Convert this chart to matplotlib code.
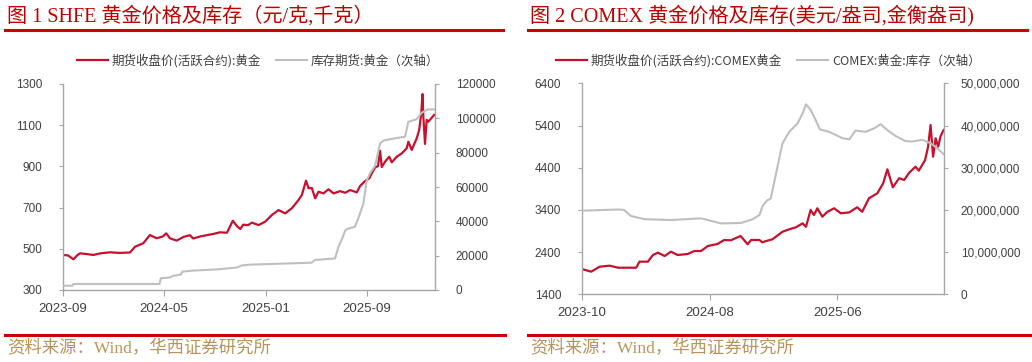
import matplotlib
matplotlib.use('Agg')
import matplotlib.pyplot as plt
from matplotlib.lines import Line2D
from matplotlib.ticker import FuncFormatter
import pandas as pd

# ---------------- Chart 1: SHFE ----------------
shfe_price_dates = [
    '2023-09-01', '2023-09-13', '2023-09-26', '2023-10-06', '2023-10-12', '2023-10-26',
    '2023-11-13', '2023-11-30', '2023-12-23', '2024-01-14', '2024-02-09', '2024-02-21',
    '2024-03-12', '2024-03-28', '2024-04-13', '2024-04-28', '2024-05-06', '2024-05-15',
    '2024-05-31', '2024-06-17', '2024-07-02', '2024-07-10', '2024-07-27', '2024-08-11',
    '2024-08-27', '2024-09-12', '2024-09-29', '2024-10-13', '2024-10-23', '2024-10-31',
    '2024-11-07', '2024-11-19', '2024-11-28', '2024-12-14', '2024-12-30', '2025-01-15',
    '2025-01-31', '2025-02-16', '2025-03-04', '2025-03-20', '2025-03-28', '2025-04-07',
    '2025-04-13', '2025-04-21', '2025-04-29', '2025-05-07', '2025-05-19', '2025-05-31',
    '2025-06-12', '2025-06-28', '2025-07-10', '2025-07-22', '2025-08-07', '2025-08-15',
    '2025-08-27', '2025-09-06', '2025-09-12', '2025-09-20', '2025-09-27', '2025-10-02',
    '2025-10-06', '2025-10-14', '2025-10-24', '2025-10-30', '2025-11-11', '2025-11-23',
    '2025-12-05', '2025-12-09', '2025-12-17', '2025-12-29', '2026-01-04', '2026-01-09',
    '2026-01-12', '2026-01-14', '2026-01-18', '2026-01-22', '2026-01-26', '2026-02-03',
    '2026-02-09']
shfe_price = [
    470, 468, 449, 470, 478, 475,
    470, 478, 483, 480, 482, 510,
    527, 567, 551, 560, 575, 551,
    540, 558, 566, 550, 560, 566,
    572, 580, 578, 636, 610, 596,
    617, 615, 627, 615, 632, 664,
    688, 672, 697, 737, 761, 831,
    794, 795, 745, 777, 769, 789,
    769, 780, 772, 785, 774, 805,
    829, 842, 866, 895, 901, 976,
    897, 923, 947, 920, 947, 963,
    988, 1020, 980, 1036, 1077, 1158,
    1251, 1141, 1009, 1126, 1117, 1136,
    1150]

shfe_stock_dates = [
    '2023-09-01', '2023-09-24', '2023-09-26', '2024-04-20', '2024-04-23', '2024-05-15',
    '2024-05-22', '2024-06-10', '2024-06-14', '2024-07-09', '2024-09-05', '2024-10-23',
    '2024-11-04', '2024-11-24', '2024-12-24', '2025-04-20', '2025-04-29', '2025-06-16',
    '2025-06-24', '2025-07-02', '2025-07-10', '2025-07-14', '2025-08-03', '2025-08-15',
    '2025-08-23', '2025-08-31', '2025-09-08', '2025-09-20', '2025-10-02', '2025-10-10',
    '2025-10-30', '2025-12-01', '2025-12-09', '2025-12-29', '2026-01-10', '2026-01-25',
    '2026-02-09']
shfe_stock = [
    2500, 2500, 3500, 3500, 6800, 7300,
    8200, 9000, 10700, 11300, 12000, 13100,
    14300, 14800, 15000, 15900, 17500, 18400,
    25200, 29500, 34500, 35500, 36900, 44700,
    50500, 64000, 68000, 72400, 85400, 87000,
    88000, 89300, 98000, 99500, 103300, 105200,
    105200]

shfe_xticks = ['2023-09', '2024-05', '2025-01', '2025-09']

# ---------------- Chart 2: COMEX ----------------
comex_price_dates = [
    '2023-10-01', '2023-10-03', '2023-10-23', '2023-11-12', '2023-12-06', '2023-12-26',
    '2024-01-18', '2024-02-07', '2024-02-15', '2024-03-06', '2024-03-18', '2024-03-30',
    '2024-04-15', '2024-04-30', '2024-05-16', '2024-06-09', '2024-06-25', '2024-07-11',
    '2024-07-27', '2024-08-19', '2024-09-04', '2024-09-20', '2024-10-13', '2024-10-30',
    '2024-11-07', '2024-11-27', '2024-12-04', '2024-12-12', '2024-12-28', '2025-01-21',
    '2025-02-06', '2025-02-22', '2025-03-10', '2025-03-18', '2025-03-29', '2025-04-06',
    '2025-04-14', '2025-04-26', '2025-05-08', '2025-05-24', '2025-06-09', '2025-06-29',
    '2025-07-18', '2025-07-30', '2025-08-15', '2025-09-04', '2025-09-18', '2025-09-28',
    '2025-10-11', '2025-10-26', '2025-11-07', '2025-11-19', '2025-12-04', '2025-12-12',
    '2025-12-27', '2026-01-03', '2026-01-09', '2026-01-15', '2026-01-21', '2026-01-27',
    '2026-02-02', '2026-02-09']
comex_price = [
    1990, 1992, 1936, 2054, 2078, 2030,
    2030, 2030, 2173, 2173, 2331, 2386,
    2307, 2410, 2331, 2355, 2426, 2426,
    2545, 2592, 2687, 2680, 2782, 2585,
    2687, 2687, 2632, 2660, 2703, 2883,
    2940, 2988, 3082, 3000, 3398, 3280,
    3438, 3239, 3355, 3438, 3320, 3340,
    3462, 3355, 3675, 3793, 4030, 4362,
    3936, 4150, 4110, 4281, 4424, 4330,
    4582, 4897, 5412, 4661, 5097, 4897,
    5150, 5293]

comex_stock_dates = [
    '2023-10-01', '2023-12-26', '2024-01-09', '2024-01-26', '2024-02-27', '2024-04-30',
    '2024-07-11', '2024-08-27', '2024-10-14', '2024-11-11', '2024-11-27', '2024-12-05',
    '2024-12-16', '2024-12-24', '2025-01-09', '2025-01-21', '2025-02-06', '2025-02-26',
    '2025-03-10', '2025-03-18', '2025-03-29', '2025-04-10', '2025-04-20', '2025-05-12',
    '2025-06-13', '2025-06-29', '2025-07-14', '2025-08-07', '2025-08-27', '2025-09-12',
    '2025-09-28', '2025-10-18', '2025-11-10', '2025-11-26', '2025-12-20', '2026-01-09',
    '2026-01-25', '2026-02-09']
comex_stock = [
    19800000, 20100000, 20000000, 18550000, 17800000, 17600000,
    18000000, 16800000, 16900000, 17800000, 18800000, 21000000,
    22300000, 22700000, 30200000, 35800000, 38500000, 40500000,
    42900000, 45000000, 43700000, 41300000, 39100000, 38500000,
    37000000, 36700000, 38800000, 38500000, 39300000, 40300000,
    38900000, 37500000, 36300000, 36200000, 36600000, 35800000,
    34600000, 33200000]

comex_xticks = ['2023-10', '2024-08', '2025-06']

# ---------------- Texts ----------------
title1 = '图 1 SHFE 黄金价格及库存（元/克,千克）'
title2 = '图 2 COMEX 黄金价格及库存(美元/盎司,金衡盎司)'
legend1 = ['期货收盘价(活跃合约):黄金', '库存期货:黄金（次轴）']
legend2 = ['期货收盘价(活跃合约):COMEX黄金', 'COMEX:黄金:库存（次轴）']
source = '资料来源：Wind，华西证券研究所'

RED = '#C8102E'
GRAY = '#BFBFBF'
AX = '#A6A6A6'
TXT = '#404040'
BAR = '#CC0000'
SERIF = ['Liberation Serif', 'Noto Sans CJK SC']
SANS = ['Noto Sans CJK SC', 'DejaVu Sans']

W, H = 1032, 362
fig = plt.figure(figsize=(W / 100, H / 100), dpi=100)


def fx(px):
    return px / W


def fy(py):
    return 1 - py / H


def style(ax, axr, xticks, xlim, ylim, yrlim, ystep, yrstep, rfmt, lpad, rpad):
    ax.set_xlim(pd.to_datetime(xlim[0]), pd.to_datetime(xlim[1]))
    ax.set_ylim(*ylim)
    axr.set_ylim(*yrlim)
    ax.set_yticks(range(ylim[0], ylim[1] + 1, ystep))
    axr.set_yticks(range(yrlim[0], yrlim[1] + 1, yrstep))
    axr.yaxis.set_major_formatter(FuncFormatter(rfmt))
    ax.set_xticks(pd.to_datetime([t + '-01' for t in xticks]))
    ax.set_xticklabels(xticks)
    for a in (ax, axr):
        for s in a.spines.values():
            s.set_visible(False)
    ax.spines['left'].set_visible(True)
    ax.spines['bottom'].set_visible(True)
    axr.spines['right'].set_visible(True)
    for s in (ax.spines['left'], ax.spines['bottom'], axr.spines['right']):
        s.set_color(AX)
        s.set_linewidth(1.0)
    ax.tick_params(axis='x', direction='out', length=4, color=AX, labelsize=9.5,
                   labelcolor=TXT, pad=5)
    ax.tick_params(axis='y', direction='out', length=3, color=AX, labelsize=8.5,
                   labelcolor=TXT, pad=lpad)
    axr.tick_params(axis='y', direction='out', length=3, color=AX, labelsize=8.5,
                    labelcolor=TXT, pad=rpad)
    for lab in ax.get_xticklabels() + ax.get_yticklabels() + axr.get_yticklabels():
        lab.set_family(['Liberation Sans', 'DejaVu Sans'])
    ax.patch.set_visible(False)


# ---- chart 1
ax1 = fig.add_axes([fx(63), fy(290), fx(435 - 63), (290 - 84) / H])
ax1r = ax1.twinx()
l1, = ax1.plot(pd.to_datetime(shfe_price_dates), shfe_price, color=RED, lw=1.6)
l2, = ax1r.plot(pd.to_datetime(shfe_stock_dates), shfe_stock, color=GRAY, lw=1.5)
style(ax1, ax1r, shfe_xticks, ('2023-09-01', '2026-02-11'), (300, 1300), (0, 120000),
      200, 20000, lambda v, p: f'{v:.0f}', 12, 12)

# ---- chart 2
ax2 = fig.add_axes([fx(582), fy(294.3), fx(944 - 582), (294.3 - 83.3) / H])
ax2r = ax2.twinx()
l3, = ax2.plot(pd.to_datetime(comex_price_dates), comex_price, color=RED, lw=1.6)
l4, = ax2r.plot(pd.to_datetime(comex_stock_dates), comex_stock, color=GRAY, lw=1.5)
style(ax2, ax2r, comex_xticks, ('2023-10-01', '2026-02-10'), (1400, 6400), (0, 50000000),
      1000, 10000000, lambda v, p: f'{v:,.0f}', 12, 9)

# ---- legends
for handles, labels, cx in (([l1, l2], legend1, 258), ([l3, l4], legend2, 768)):
    fig.legend(handles, labels, loc='center', bbox_to_anchor=(fx(cx), fy(61)), ncol=2,
               frameon=False, handlelength=2.5, handletextpad=0.3, columnspacing=1.2,
               prop={'family': SANS, 'size': 9}, labelcolor=TXT)

# ---- titles, bars, sources
for x0, x1, t in ((5, 503, title1), (528, 1027, title2)):
    fig.text(fx(x0 + 2), fy(16), t, ha='left', va='center', color='#C00000',
             fontsize=14.5, family=SERIF, fontweight='light')
    fig.add_artist(Line2D([fx(x0), fx(x1)], [fy(29.5)] * 2, color=BAR, lw=2.2))

for x0, x1 in ((5, 505), (528, 1032)):
    fig.add_artist(Line2D([fx(x0), fx(x1)], [fy(334.5)] * 2, color=BAR, lw=2.2))
    fig.text(fx(x0 + 2), fy(349), source, ha='left', va='center', color='#B8935A',
             fontsize=12.5, family=SERIF, fontweight='light')

fig.savefig('out.png', dpi=100)
